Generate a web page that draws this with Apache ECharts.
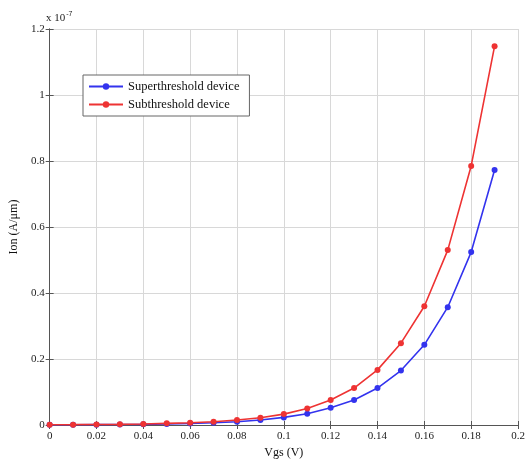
<!DOCTYPE html>
<html>
<head>
<meta charset="utf-8">
<script src="https://cdn.jsdelivr.net/npm/echarts@6/dist/echarts.min.js"></script>
<style>
html, body { margin: 0; padding: 0; background: #fff; }
#chart { width: 531px; height: 470px; }
</style>
</head>
<body>
<div id="chart"></div>
<script>
// Vgs sweep (V)
const vgs = [0, 0.01, 0.02, 0.03, 0.04, 0.05, 0.06, 0.07, 0.08, 0.09,
             0.1, 0.11, 0.12, 0.13, 0.14, 0.15, 0.16, 0.17, 0.18, 0.19];
// Ion in units of 1e-7 A/um
const superIon = [0.0005, 0.0007, 0.001, 0.0014, 0.002, 0.003, 0.0045, 0.007, 0.010, 0.015,
                  0.023, 0.034, 0.052, 0.076, 0.112, 0.165, 0.243, 0.357, 0.524, 0.773];
const subIon = [0.0007, 0.001, 0.0015, 0.002, 0.003, 0.005, 0.007, 0.010, 0.015, 0.022,
                0.033, 0.050, 0.076, 0.112, 0.167, 0.248, 0.360, 0.530, 0.785, 1.148];
const seriesNames = ['Superthreshold device', 'Subthreshold device'];

const font = 'Liberation Serif';
let myChart = echarts.init(document.getElementById('chart'));

const pairs = arr => vgs.map((v, i) => [v, arr[i]]);

// common pieces
let gridLine = { show: true, lineStyle: { color: '#d8d8d8', width: 1 } };
let axisLine = { show: true, lineStyle: { color: '#555', width: 1 } };
let tick = { show: true, inside: true, length: 4, lineStyle: { color: '#555' } };

let option = {
    animation: false,
    backgroundColor: '#fff',
    grid: { left: 44, right: 13, top: 29, bottom: 45 },
    legend: {
        orient: 'vertical',
        left: 83,
        top: 75,
        data: seriesNames,
        backgroundColor: '#fff',
        borderColor: '#666',
        borderWidth: 1,
        padding: [5, 10, 5, 5],
        itemGap: 5,
        itemWidth: 34,
        itemHeight: 8,
        textStyle: { fontFamily: font, fontSize: 12.5, color: '#111' }
    },
    xAxis: [{
        type: 'value',
        min: 0, max: 0.2, interval: 0.02,
        name: 'Vgs (V)',
        nameLocation: 'middle',
        nameGap: 22,
        nameTextStyle: { fontFamily: font, fontSize: 12, color: '#111' },
        axisLine, axisTick: tick,
        axisLabel: { fontFamily: font, fontSize: 11, color: '#222', margin: 6 },
        splitLine: gridLine
    }, {
        type: 'value', position: 'top',
        min: 0, max: 0.2, interval: 0.02,
        axisLine, axisTick: tick,
        axisLabel: { show: false },
        splitLine: { show: false }
    }],
    yAxis: [{
        type: 'value',
        min: 0, max: 1.2, interval: 0.2,
        name: 'Ion (A/μm)',
        nameLocation: 'middle',
        nameGap: 21,
        nameTextStyle: { fontFamily: font, fontSize: 12, color: '#111' },
        axisLine, axisTick: tick,
        axisLabel: { fontFamily: font, fontSize: 11, color: '#222', margin: 5 },
        splitLine: gridLine
    }, {
        type: 'value', position: 'right',
        min: 0, max: 1.2, interval: 0.2,
        axisLine, axisTick: tick,
        axisLabel: { show: false },
        splitLine: { show: false }
    }],
    graphic: [{
        type: 'text',
        left: 46,
        top: 11,
        style: {
            text: 'x 10{sup|-7}',
            fontFamily: font,
            fontSize: 11,
            fill: '#222',
            rich: { sup: { fontSize: 7, verticalAlign: 'top', padding: [0, 0, 8, 1], fill: '#222' } }
        }
    }],
    series: [{
        name: seriesNames[0],
        type: 'line',
        data: pairs(superIon),
        symbol: 'circle',
        symbolSize: 6,
        lineStyle: { color: '#3333ee', width: 1.6 },
        itemStyle: { color: '#3333ee' },
        z: 2
    }, {
        name: seriesNames[1],
        type: 'line',
        data: pairs(subIon),
        symbol: 'circle',
        symbolSize: 6,
        lineStyle: { color: '#ee3333', width: 1.6 },
        itemStyle: { color: '#ee3333' },
        z: 3
    }]
};

option && myChart.setOption(option);
</script>
</body>
</html>
